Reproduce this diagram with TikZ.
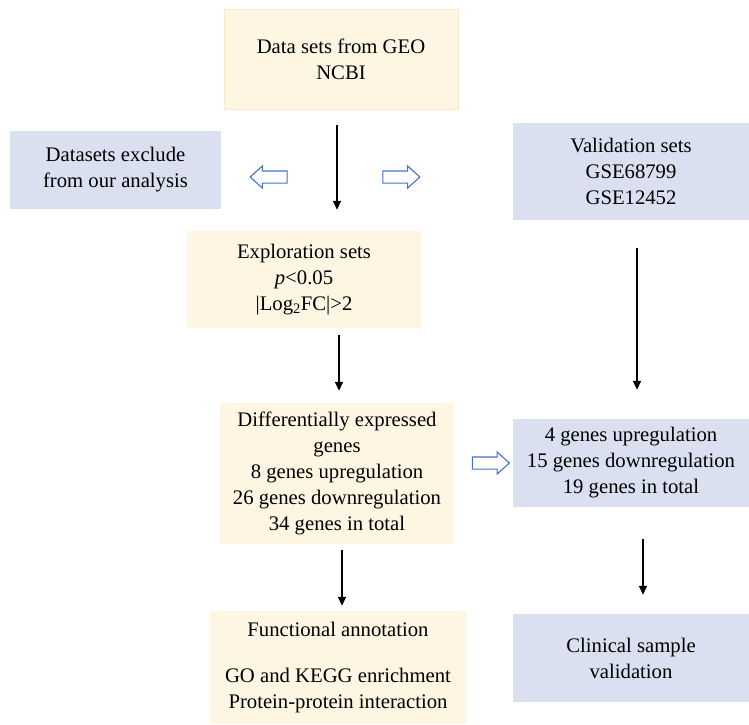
\documentclass[tikz,border=0pt]{standalone}
\usepackage{fontspec}
\setmainfont{Liberation Serif}
\usetikzlibrary{arrows.meta,shapes.arrows,positioning}
\definecolor{boxyellow}{HTML}{FEF6E3}
\definecolor{boxyellowline}{HTML}{FAEBC8}
\definecolor{boxblue}{HTML}{DAE0F0}
\definecolor{hollowblue}{HTML}{4472C4}
\begin{document}
\begin{tikzpicture}[x=1pt,y=1pt,
		yellowbox/.style={fill=boxyellow,align=center,inner sep=0pt,font=\fontsize{20.7}{26}\selectfont},
		bluebox/.style={fill=boxblue,align=center,inner sep=0pt,font=\fontsize{20.7}{26}\selectfont},
		flow/.style={-{Triangle[length=9pt,width=8pt]},line width=1.6pt},
		hollow/.style={single arrow,draw=hollowblue,fill=white,line width=1.1pt,inner xsep=0pt,inner ysep=5.5pt,
			minimum height=37pt,single arrow head extend=5pt,single arrow tip angle=84}]
		\useasboundingbox (0,0) rectangle (749,-724);
		% left column
		\node[yellowbox,draw=boxyellowline,minimum width=234pt,minimum height=100pt] (geo) at (341,-59) {Data sets from GEO\\NCBI};
		\node[bluebox,minimum width=211pt,minimum height=78pt] (excl) at (115.5,-170) {Datasets exclude\\from our analysis};
		\node[yellowbox,minimum width=234pt,minimum height=97pt] (explor) at (304,-279.5) {Exploration sets\\\textit{p}<0.05\\|Log\textsubscript{2}FC|>2};
		\node[yellowbox,minimum width=234pt,minimum height=141pt] (deg) at (337,-473.5) {Differentially expressed\\genes\\8 genes upregulation\\26 genes downregulation\\34 genes in total};
		\node[yellowbox,minimum width=256pt,minimum height=113pt] (func) at (338,-667.5) {Functional annotation\\[20pt]GO and KEGG enrichment\\Protein-protein interaction};
		% right column
		\node[bluebox,minimum width=236pt,minimum height=97pt] (valid) at (631,-171.5) {Validation sets\\GSE68799\\GSE12452};
		\node[bluebox,minimum width=236pt,minimum height=88pt] (genes) at (631,-463) {4 genes upregulation\\15 genes downregulation\\19 genes in total};
		\node[bluebox,minimum width=236pt,minimum height=88pt] (clin) at (631,-658) {Clinical sample\\validation};
		
		\node[hollow,shape border rotate=180] (toexcl) at (272,-177) {};
		\node[hollow] (tovalid) at (398,-177) {};
		\node[hollow] (togenes) at (487.5,-463) {};
		
		\draw[flow,shorten <=16pt,shorten >=21pt] (geo.south -| deg.center) -- (explor.north -| deg.center);
		\draw[flow,shorten <=7pt,shorten >=12pt] ([xshift=2pt]explor.south -| deg.center) -- ([xshift=2pt]deg.north);
		\draw[flow,shorten <=6pt,shorten >=5pt] ([xshift=5pt]deg.south) -- ([xshift=5pt]func.north -| deg.center);
		\draw[flow,shorten <=28pt,shorten >=29pt] ([xshift=6pt]valid.south) -- ([xshift=6pt]genes.north);
		\draw[flow,shorten <=32pt,shorten >=19pt] ([xshift=12pt]genes.south) -- ([xshift=12pt]clin.north);
		
	\end{tikzpicture}
\end{document}
